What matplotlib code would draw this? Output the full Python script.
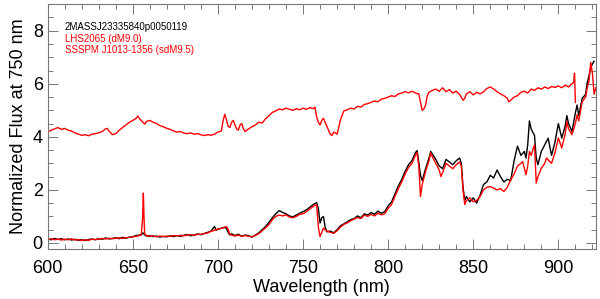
import matplotlib
matplotlib.use("Agg")
from matplotlib import pyplot as plt
from matplotlib.ticker import MultipleLocator

# target spectrum (black)
wl_target = [600, 602, 604, 606, 608, 610, 612, 614, 616, 618, 620, 622, 624, 626, 628, 630,
             632, 634, 636, 638, 640, 642, 644, 646, 648, 650, 652, 654, 655, 656, 657, 658,
             660, 662, 664, 666, 668, 670, 672, 674, 676, 678, 680, 682, 684, 686, 688, 690,
             692, 694, 696, 698, 699, 700, 702, 704, 705, 706, 707, 708, 710, 712, 714, 716,
             718, 720, 722, 724, 726, 728, 730, 732, 734, 736, 738, 740, 742, 744, 746, 748,
             750, 752, 754, 756, 758, 759, 760, 761, 762, 763, 764, 766, 768, 770, 772, 774,
             776, 778, 780, 782, 784, 786, 788, 790, 792, 794, 796, 798, 800, 802, 804, 806,
             808, 810, 812, 814, 816, 817, 818, 819, 820, 822, 824, 825, 826, 828, 830, 832,
             834, 836, 838, 840, 842, 843, 844, 845, 846, 848, 850, 852, 854, 856, 858, 860,
             862, 864, 866, 868, 870, 872, 874, 876, 878, 880, 881, 882, 883, 884, 886, 887,
             888, 890, 892, 894, 896, 898, 900, 902, 904, 905, 906, 908, 910, 911, 912, 914,
             916, 917, 918, 919, 920, 921]
flux_target = [0.15, 0.12, 0.17, 0.13, 0.16, 0.12, 0.15, 0.11, 0.14, 0.10, 0.12, 0.09, 0.13, 0.15, 0.12, 0.16,
               0.14, 0.19, 0.15, 0.17, 0.20, 0.16, 0.21, 0.18, 0.22, 0.24, 0.28, 0.30, 0.32, 0.38, 0.30, 0.26,
               0.27, 0.24, 0.26, 0.22, 0.25, 0.23, 0.27, 0.24, 0.28, 0.25, 0.29, 0.32, 0.27, 0.30, 0.34, 0.31,
               0.36, 0.40, 0.45, 0.62, 0.48, 0.52, 0.56, 0.58, 0.55, 0.40, 0.30, 0.35, 0.28, 0.33, 0.25, 0.30,
               0.27, 0.22, 0.30, 0.38, 0.50, 0.62, 0.78, 0.95, 1.10, 1.22, 1.15, 1.10, 1.02, 0.98, 1.05, 1.12,
               1.18, 1.25, 1.35, 1.45, 1.52, 1.30, 0.75, 0.95, 1.00, 0.60, 0.42, 0.45, 0.38, 0.50, 0.65, 0.72,
               0.80, 0.88, 0.92, 1.02, 0.95, 1.10, 1.05, 1.15, 1.08, 1.20, 1.12, 1.18, 1.40, 1.55, 1.85, 2.15,
               2.40, 2.70, 2.95, 3.10, 3.40, 3.48, 3.05, 2.55, 2.35, 2.80, 3.20, 3.45, 3.35, 3.15, 2.90, 2.80,
               3.15, 3.05, 2.95, 3.10, 3.20, 3.00, 2.10, 1.60, 1.75, 1.55, 1.70, 1.50, 1.80, 2.20, 2.30, 2.55,
               2.45, 2.75, 2.50, 2.30, 2.40, 2.35, 3.10, 3.65, 3.30, 3.45, 3.20, 3.70, 4.60, 4.30, 4.05, 3.20,
               2.95, 3.45, 3.70, 3.95, 3.30, 3.80, 4.50, 3.95, 4.40, 4.80, 4.50, 4.20, 4.90, 5.20, 4.80, 5.45,
               5.60, 6.05, 6.30, 6.60, 6.75, 6.85]

# SSSPM J1013-1356 (sdM9.5), red, no offset
wl_sd = [600, 602, 604, 606, 608, 610, 612, 614, 616, 618, 620, 622, 624, 626, 628, 630,
         632, 634, 636, 638, 640, 642, 644, 646, 648, 650, 652, 654, 655, 655.8, 656.2, 656.6, 657, 658,
         660, 662, 664, 666, 668, 670, 672, 674, 676, 678, 680, 682, 684, 686, 688, 690,
         692, 694, 696, 698, 700, 702, 704, 705, 706, 707, 708, 710, 712, 714, 716,
         718, 720, 722, 724, 726, 728, 730, 732, 734, 736, 738, 740, 742, 744, 746, 748,
         750, 752, 754, 756, 758, 759, 760, 761, 762, 763, 764, 766, 768, 770, 772, 774,
         776, 778, 780, 782, 784, 786, 788, 790, 792, 794, 796, 798, 800, 802, 804, 806,
         808, 810, 812, 814, 816, 817, 818, 819, 820, 822, 824, 825, 826, 828, 830, 831, 832,
         834, 836, 838, 840, 842, 843, 844, 845, 846, 848, 850, 852, 854, 856, 858, 860,
         862, 864, 866, 868, 870, 872, 874, 876, 878, 879, 881, 882, 883, 884, 886, 887,
         888, 890, 892, 893, 896, 898, 900, 902, 904, 905, 906, 908, 910, 911, 912, 914,
         916, 917, 918, 919, 920, 921, 922]
flux_sd = [0.13, 0.16, 0.12, 0.15, 0.11, 0.14, 0.12, 0.16, 0.11, 0.13, 0.09, 0.12, 0.10, 0.14, 0.13, 0.15,
           0.17, 0.15, 0.18, 0.16, 0.18, 0.19, 0.17, 0.20, 0.21, 0.23, 0.25, 0.28, 0.30, 1.00, 1.88, 0.90, 0.34, 0.28,
           0.25, 0.27, 0.23, 0.26, 0.24, 0.26, 0.25, 0.28, 0.26, 0.29, 0.27, 0.30, 0.31, 0.29, 0.32, 0.33,
           0.35, 0.38, 0.44, 0.48, 0.52, 0.55, 0.60, 0.62, 0.52, 0.32, 0.30, 0.26, 0.30, 0.24, 0.28,
           0.25, 0.24, 0.28, 0.35, 0.46, 0.57, 0.70, 0.88, 1.00, 1.05, 1.02, 1.06, 0.98, 0.95, 1.00, 1.08,
           1.10, 1.18, 1.28, 1.38, 1.45, 0.60, 0.24, 0.40, 0.56, 0.50, 0.45, 0.40, 0.36, 0.46, 0.60, 0.70,
           0.76, 0.84, 0.90, 0.96, 0.92, 1.05, 1.00, 1.08, 1.02, 1.12, 1.06, 1.10, 1.30, 1.45, 1.75, 2.05,
           2.30, 2.60, 2.85, 3.00, 3.30, 3.40, 2.90, 1.75, 2.20, 2.70, 3.10, 3.40, 3.25, 3.00, 2.75, 2.50, 2.65,
           3.00, 2.90, 2.80, 2.95, 3.05, 2.90, 2.00, 1.45, 1.60, 1.70, 1.55, 1.60, 1.75, 2.00, 2.10, 2.12,
           2.07, 2.00, 2.05, 1.94, 2.10, 2.38, 2.60, 2.90, 3.00, 3.07, 2.57, 2.90, 3.45, 3.30, 3.70, 2.26,
           2.50, 2.82, 3.00, 3.20, 3.00, 3.40, 3.96, 3.58, 4.10, 4.58, 4.30, 4.08, 4.50, 4.83, 4.60, 5.33,
           5.50, 5.85, 6.10, 6.80, 6.40, 5.60, 5.85]

# LHS2065 (dM9.0), red, offset by +4
wl_dm = [600, 602, 604, 606, 608, 610, 612, 614, 616, 618, 620, 622, 624, 626, 628, 630,
         632, 634, 635, 636, 638, 640, 642, 644, 646, 648, 650, 652, 653, 654, 656, 657,
         658, 660, 662, 664, 666, 668, 670, 672, 674, 676, 678, 680, 682, 684, 686, 688,
         690, 692, 694, 696, 698, 700, 702, 703, 704, 705, 706, 707, 708, 709, 710, 711,
         712, 713, 714, 715, 716, 718, 720, 722, 724, 726, 728, 730, 732, 734, 736, 738,
         740, 742, 744, 746, 748, 750, 752, 754, 756, 757, 758, 759, 760, 761, 762, 763,
         764, 765, 766, 767, 768, 769, 770, 771, 772, 774, 776, 778, 780, 782, 784, 786,
         788, 790, 792, 794, 796, 798, 800, 802, 804, 806, 808, 810, 812, 814, 816, 818,
         819, 820, 821, 822, 823, 824, 826, 828, 830, 832, 834, 836, 838, 840, 842, 844,
         845, 846, 848, 850, 852, 854, 856, 858, 860, 862, 864, 866, 868, 870, 871, 872,
         874, 876, 878, 880, 882, 884, 886, 888, 890, 892, 894, 896, 898, 900, 902, 904,
         906, 908, 909, 909.5, 910]
flux_dm = [4.18, 4.25, 4.30, 4.35, 4.28, 4.32, 4.25, 4.22, 4.15, 4.10, 4.06, 4.08, 4.04, 4.10, 4.12, 4.15,
           4.20, 4.30, 4.32, 4.22, 4.08, 4.12, 4.25, 4.35, 4.45, 4.55, 4.62, 4.70, 4.78, 4.68, 4.55, 4.48,
           4.58, 4.62, 4.55, 4.50, 4.42, 4.38, 4.32, 4.28, 4.22, 4.18, 4.20, 4.14, 4.12, 4.15, 4.10, 4.12,
           4.08, 4.05, 4.08, 4.06, 4.10, 4.18, 4.22, 4.60, 4.85, 4.65, 4.40, 4.35, 4.55, 4.62, 4.45, 4.30,
           4.25, 4.45, 4.50, 4.30, 4.20, 4.30, 4.38, 4.45, 4.55, 4.52, 4.68, 4.80, 4.92, 4.98, 5.05, 5.02,
           5.08, 5.04, 5.00, 5.06, 5.02, 5.08, 5.04, 5.10, 5.06, 5.12, 4.75, 4.55, 4.45, 4.62, 4.70, 4.55,
           4.40, 4.25, 4.10, 4.05, 4.18, 4.15, 4.10, 4.35, 4.65, 4.98, 5.02, 5.08, 5.05, 5.15, 5.12, 5.22,
           5.25, 5.30, 5.35, 5.32, 5.42, 5.45, 5.50, 5.55, 5.52, 5.62, 5.65, 5.70, 5.66, 5.72, 5.65, 5.62,
           5.30, 5.00, 5.05, 5.20, 5.55, 5.68, 5.75, 5.80, 5.72, 5.85, 5.70, 5.78, 5.65, 5.72, 5.60, 5.38,
           5.45, 5.62, 5.70, 5.58, 5.68, 5.62, 5.70, 5.82, 5.88, 5.80, 5.70, 5.62, 5.55, 5.45, 5.32, 5.38,
           5.50, 5.55, 5.68, 5.72, 5.65, 5.80, 5.75, 5.85, 5.80, 5.88, 5.82, 5.90, 5.86, 5.92, 5.85, 5.95,
           5.88, 6.00, 6.05, 6.40, 5.30]

labels = ["2MASSJ23335840p0050119", "LHS2065 (dM9.0)", "SSSPM J1013-1356 (sdM9.5)"]
label_colors = ["black", "red", "red"]

plt.rcParams['font.family'] = ['Liberation Sans', 'DejaVu Sans']

fig = plt.figure(figsize=(6, 2.99), dpi=100)
ax = fig.add_axes([0.0795, 0.167, 0.9135, 0.819])

ax.plot(wl_target, flux_target, color='black', linewidth=1.0)
ax.plot(wl_sd, flux_sd, color='red', linewidth=1.0)
ax.plot(wl_dm, flux_dm, color='red', linewidth=1.0)

ax.set_xlim(600, 922)
ax.set_ylim(-0.23, 9.0)
ax.xaxis.set_major_locator(MultipleLocator(50))
ax.xaxis.set_minor_locator(MultipleLocator(10))
ax.yaxis.set_major_locator(MultipleLocator(2))
ax.yaxis.set_minor_locator(MultipleLocator(0.5))
ax.tick_params(which='both', direction='in', top=True, right=True, color='#777777',
               labelsize=13, width=0.7)
ax.tick_params(which='major', length=7)
ax.tick_params(which='minor', length=3.5)
ax.tick_params(axis='x', which='major', pad=8)
for s in ax.spines.values():
    s.set_color('#777777')
    s.set_linewidth(0.8)

ax.set_xlabel('Wavelength (nm)', fontsize=13, labelpad=1)
ax.set_ylabel('Normalized Flux at 750 nm', fontsize=13, labelpad=4)

# legend-like labels
for i, (txt, c) in enumerate(zip(labels, label_colors)):
    ax.text(0.031, 0.906 - i * 0.047, txt, color=c, fontsize=7,
            transform=ax.transAxes, va='center', ha='left')

fig.savefig('out.png', dpi=100)
